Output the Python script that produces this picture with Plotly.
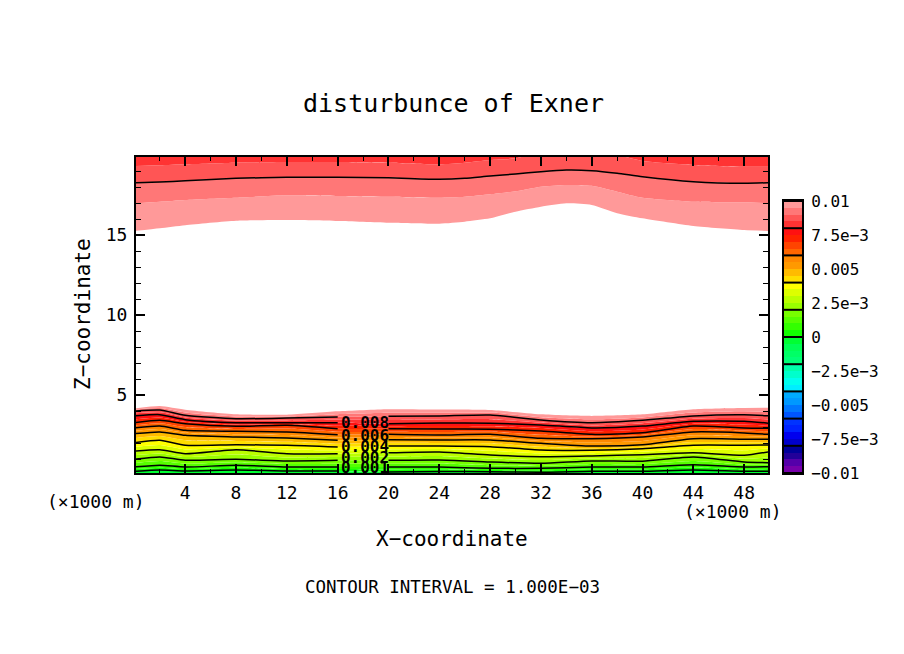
# disturbance of Exner, contour section
import numpy as np
import plotly.graph_objects as go

title = "disturbunce of Exner"
x_title = "X−coordinate"
z_title = "Z−coordinate"
interval_text = "CONTOUR INTERVAL = 1.000E−03"
unit_text = "(×1000 m)"
font_name = "DejaVu Sans Mono"

x_major = [4, 8, 12, 16, 20, 24, 28, 32, 36, 40, 44, 48]
z_major = [5, 10, 15]

# 40 shades from -0.01 up to 0.01, each 0.0005 wide
shades = ["#7700AA", "#5500AA", "#220099", "#000099",
          "#0000CC", "#0000EE", "#0022FF", "#0033FF",
          "#0055FF", "#0077FF", "#0099FF", "#00AAFF",
          "#00EEFF", "#00FFEE", "#00FFCC", "#00FFAA",
          "#00FF77", "#00FF66", "#00FF55", "#00FF33",
          "#11FF00", "#33FF00", "#55FF00", "#77FF00",
          "#99FF00", "#BBFF00", "#DDFF00", "#FFFF00",
          "#FFDD00", "#FFBB00", "#FF9900", "#FF8800",
          "#FF6600", "#FF4400", "#FF2200", "#FF1111",
          "#FF3333", "#FF5555", "#FF7777", "#FF9999"]
bar_edges = [-0.01, -0.008, -0.006, -0.004, -0.002, 0, 0.002, 0.004, 0.006, 0.008, 0.01]
bar_ticks = [0.01, 0.0075, 0.005, 0.0025, 0, -0.0025, -0.005, -0.0075, -0.01]
bar_labels = ["0.01", "7.5e−3", "0.005", "2.5e−3", "0", "−2.5e−3", "−0.005", "−7.5e−3", "−0.01"]

# lower layer: height (km) of 0.010, 0.0095, ... 0 at each x station
low_x = [0, 2, 4, 8, 12, 16, 20, 24, 28, 32, 36, 40, 44, 48, 50]
low_x00 = [4.16, 4.08, 4.00, 3.85, 3.69, 3.48, 3.27, 3.10, 2.94, 2.76, 2.58, 2.30, 2.02, 1.76, 1.50, 1.24, 0.98, 0.74, 0.50, 0.36, 0.23]
low_x02 = [4.31, 4.18, 4.06, 3.92, 3.77, 3.60, 3.42, 3.24, 3.06, 2.88, 2.69, 2.43, 2.17, 1.87, 1.58, 1.35, 1.13, 0.87, 0.61, 0.46, 0.31]
low_x04 = [4.08, 3.90, 3.73, 3.60, 3.46, 3.33, 3.21, 3.00, 2.79, 2.64, 2.48, 2.17, 1.86, 1.60, 1.33, 1.12, 0.92, 0.71, 0.50, 0.37, 0.25]
low_x08 = [3.79, 3.65, 3.52, 3.40, 3.27, 3.15, 3.04, 2.88, 2.73, 2.55, 2.38, 2.13, 1.89, 1.73, 1.58, 1.28, 0.98, 0.80, 0.61, 0.46, 0.31]
low_x12 = [3.77, 3.66, 3.56, 3.41, 3.27, 3.19, 3.11, 2.90, 2.69, 2.50, 2.31, 2.08, 1.86, 1.60, 1.33, 1.10, 0.88, 0.69, 0.50, 0.37, 0.25]
low_x16 = [3.98, 3.80, 3.63, 3.45, 3.27, 3.08, 2.89, 2.70, 2.52, 2.34, 2.17, 1.96, 1.75, 1.54, 1.33, 1.12, 0.92, 0.71, 0.50, 0.37, 0.25]
low_x20 = [4.11, 3.89, 3.67, 3.44, 3.21, 3.05, 2.89, 2.71, 2.54, 2.37, 2.21, 2.01, 1.81, 1.60, 1.39, 1.15, 0.92, 0.71, 0.50, 0.35, 0.19]
low_x24 = [4.09, 3.89, 3.69, 3.47, 3.25, 3.06, 2.88, 2.69, 2.50, 2.34, 2.19, 2.00, 1.81, 1.62, 1.44, 1.19, 0.94, 0.72, 0.50, 0.36, 0.22]
low_x28 = [4.06, 3.90, 3.75, 3.49, 3.23, 3.04, 2.86, 2.70, 2.54, 2.36, 2.19, 1.98, 1.77, 1.51, 1.25, 1.03, 0.81, 0.61, 0.42, 0.31, 0.21]
low_x32 = [3.79, 3.61, 3.44, 3.28, 3.13, 2.94, 2.75, 2.52, 2.29, 2.13, 1.98, 1.77, 1.56, 1.35, 1.14, 0.93, 0.73, 0.57, 0.42, 0.29, 0.17]
low_x36 = [3.69, 3.48, 3.27, 3.10, 2.94, 2.74, 2.54, 2.40, 2.27, 2.04, 1.81, 1.67, 1.54, 1.36, 1.19, 1.03, 0.88, 0.69, 0.50, 0.36, 0.23]
low_x40 = [3.79, 3.60, 3.42, 3.24, 3.06, 2.85, 2.64, 2.51, 2.38, 2.13, 1.89, 1.76, 1.64, 1.45, 1.27, 1.06, 0.86, 0.68, 0.50, 0.36, 0.23]
low_x44 = [4.11, 3.90, 3.69, 3.52, 3.36, 3.21, 3.06, 2.87, 2.69, 2.48, 2.27, 2.06, 1.86, 1.62, 1.39, 1.26, 1.13, 0.88, 0.64, 0.47, 0.31]
low_x48 = [4.19, 3.98, 3.77, 3.56, 3.36, 3.15, 2.94, 2.78, 2.63, 2.43, 2.23, 2.04, 1.86, 1.54, 1.23, 1.02, 0.81, 0.65, 0.50, 0.36, 0.23]
low_x50 = [4.20, 3.94, 3.69, 3.46, 3.23, 3.07, 2.92, 2.73, 2.54, 2.38, 2.23, 2.05, 1.88, 1.67, 1.46, 1.11, 0.77, 0.64, 0.52, 0.37, 0.23]
low_levels = np.array([low_x00, low_x02, low_x04, low_x08, low_x12, low_x16, low_x20, low_x24,
                       low_x28, low_x32, low_x36, low_x40, low_x44, low_x48, low_x50]).T

# upper layer: value falls with height again
up_x = [0, 2, 4, 8, 12, 16, 20, 24, 26, 28, 30, 32, 34, 36, 38, 40, 44, 48, 50]
up_0100 = [15.25, 15.42, 15.61, 15.89, 15.94, 15.88, 15.77, 15.71, 15.83, 16.04, 16.46, 16.77, 16.98, 16.88, 16.36, 16.04, 15.56, 15.31, 15.25]
up_0095 = [16.98, 17.08, 17.19, 17.33, 17.48, 17.44, 17.39, 17.33, 17.39, 17.54, 17.73, 18.02, 18.13, 18.08, 17.71, 17.33, 17.08, 17.04, 16.98]
up_0090 = [18.27, 18.31, 18.39, 18.54, 18.61, 18.61, 18.58, 18.48, 18.54, 18.69, 18.81, 18.96, 19.06, 19.02, 18.86, 18.64, 18.33, 18.23, 18.27]
up_0085 = [19.31, 19.36, 19.42, 19.52, 19.56, 19.56, 19.52, 19.42, 19.52, 19.69, 19.79, 20.2, 20.3, 20.2, 20.0, 19.63, 19.38, 19.27, 19.27]

label_x = [18.15, 18.15, 18.15, 18.15, 18.15]
label_z = [3.2, 2.4, 1.7, 1.0, 0.4]
label_text = ["0.008", "0.006", "0.004", "0.002", "0.001"]

W = 904
H = 654
fig = go.Figure()

curve = dict(width=0, shape="spline", smoothing=0.6)

# bands of the lower layer, from the ground up
fig.add_trace(go.Scatter(x=low_x, y=[0] * len(low_x), mode="lines", line=dict(width=0)))
for j in range(20, -1, -1):
    fig.add_trace(go.Scatter(x=low_x, y=low_levels[j], mode="lines", line=curve,
                             fill="tonexty", fillcolor=shades[19 + (20 - j)]))

# upper layer
fig.add_trace(go.Scatter(x=up_x, y=up_0100, mode="lines", line=curve))
fig.add_trace(go.Scatter(x=up_x, y=up_0095, mode="lines", line=curve, fill="tonexty", fillcolor=shades[39]))
fig.add_trace(go.Scatter(x=up_x, y=up_0090, mode="lines", line=curve, fill="tonexty", fillcolor=shades[38]))
fig.add_trace(go.Scatter(x=up_x, y=up_0085, mode="lines", line=curve, fill="tonexty", fillcolor=shades[37]))
fig.add_trace(go.Scatter(x=up_x, y=[21] * len(up_x), mode="lines", line=dict(width=0), fill="tonexty", fillcolor=shades[36]))

# contour lines every 0.001, broken around the labels
black_curve = dict(color="black", width=1.5, shape="spline", smoothing=0.6)
gap = low_x.index(20)
line_x = low_x[:gap] + [18] + low_x[gap:]
for j in range(2, 21, 2):
    row = list(low_levels[j])
    fig.add_trace(go.Scatter(x=line_x, y=row[:gap] + [None] + row[gap:], mode="lines", line=black_curve))
fig.add_trace(go.Scatter(x=up_x, y=up_0090, mode="lines", line=black_curve))

fig.add_trace(go.Scatter(x=label_x, y=label_z, mode="text", text=label_text, cliponaxis=False,
                         textfont=dict(family=font_name, size=16, color="black", weight="bold")))

# colour bar
fig.add_trace(go.Heatmap(x=[0, 1], y=np.linspace(-0.01, 0.01, 41), z=[[i] for i in range(40)],
                         colorscale=[[i / 39, c] for i, c in enumerate(shades)], zmin=0, zmax=39,
                         showscale=False, xaxis="x2", yaxis="y2"))
sep_x = []
sep_y = []
for e in bar_edges:
    sep_x += [0, 1, None]
    sep_y += [e, e, None]
fig.add_trace(go.Scatter(x=sep_x, y=sep_y, mode="lines", line=dict(color="black", width=2), xaxis="x2", yaxis="y2"))

tick_font = dict(family=font_name, size=18, color="black")
fig.update_layout(
    width=W, height=H, margin=dict(l=0, r=0, t=0, b=0, autoexpand=False), paper_bgcolor="white", plot_bgcolor="white",
    showlegend=False, hovermode=False,
    xaxis=dict(domain=[136 / W, 768 / W], range=[0.125, 49.875], tickvals=x_major, showgrid=False, zeroline=False,
               ticks="inside", ticklen=9, tickwidth=2, tickcolor="black", mirror="allticks",
               showline=True, linecolor="black", linewidth=2, tickfont=tick_font, ticklabelstandoff=2,
               minor=dict(tickvals=[2, 6, 10, 14, 18, 22, 26, 30, 34, 38, 42, 46], ticks="inside", ticklen=4, tickwidth=1, tickcolor="black")),
    yaxis=dict(domain=[1 - 473 / H, 1 - 157 / H], range=[0.125, 19.875], tickvals=z_major, showgrid=False, zeroline=False,
               ticks="inside", ticklen=9, tickwidth=2, tickcolor="black", mirror="allticks",
               showline=True, linecolor="black", linewidth=2, tickfont=tick_font, ticklabelstandoff=3,
               minor=dict(dtick=1, ticks="inside", ticklen=5, tickwidth=1, tickcolor="black", showgrid=False)),
    xaxis2=dict(domain=[784 / W, 802 / W], range=[0, 1], anchor="y2", showticklabels=False, ticks="", showgrid=False,
                zeroline=False, showline=True, linecolor="black", linewidth=2, mirror=True),
    yaxis2=dict(domain=[1 - 473 / H, 1 - 201 / H], range=[-0.01, 0.01], anchor="x2", side="right", tickvals=bar_ticks,
                ticktext=bar_labels, ticks="", showgrid=False, zeroline=False, showline=True, linecolor="black",
                linewidth=2, mirror=True, ticklabelstandoff=4, tickfont=dict(family=font_name, size=16, color="black")),
)

def add_text(text, px, py, size, angle=0):
    fig.add_annotation(text=text, x=px / W, y=1 - py / H, xref="paper", yref="paper", showarrow=False,
                       xanchor="center", yanchor="middle", textangle=angle,
                       font=dict(family=font_name, size=size, color="black"))

add_text(title, 453, 104, 25)
add_text(x_title, 452, 539, 21)
add_text(z_title, 83, 314, 21, -90)
add_text(interval_text, 452, 587, 17.5)
add_text(unit_text, 96, 501, 18)
add_text(unit_text, 733, 511, 18)

# page margin would push everything 8px
fig.write_html("out.html", config={"displayModeBar": False}, post_script="document.body.style.margin='0';")
